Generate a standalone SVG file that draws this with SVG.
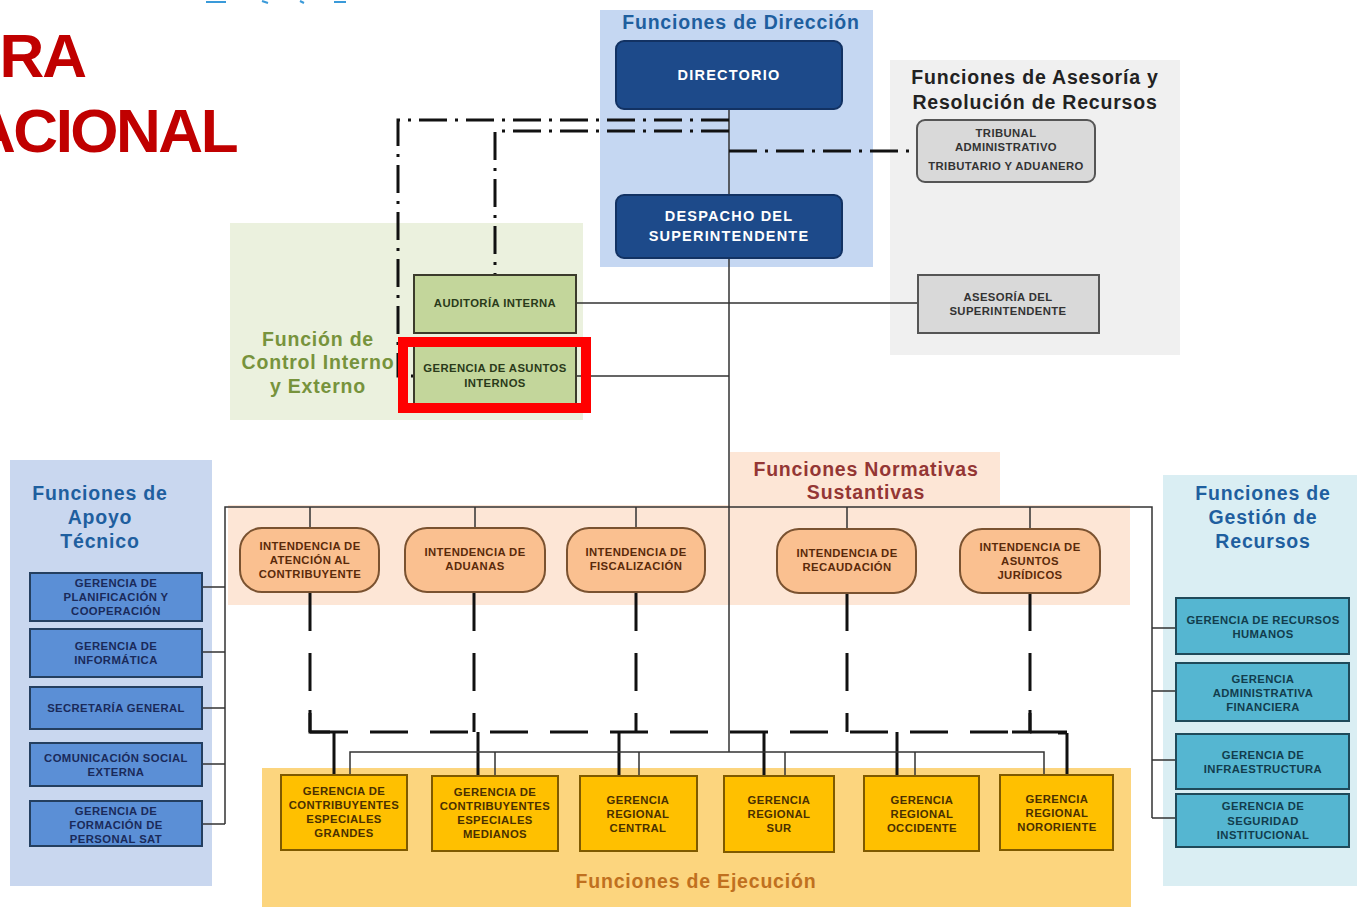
<svg xmlns="http://www.w3.org/2000/svg" width="1357" height="907" viewBox="0 0 1357 907">
<style>
.t{font-family:"Liberation Sans",Arial,sans-serif;font-weight:bold;text-anchor:middle}
.sec{font-size:19.5px;letter-spacing:0.8px}
.sm{font-size:11.3px;letter-spacing:0.4px}
.big{font-size:14.5px;letter-spacing:1.2px;fill:#fff}
.thin{stroke:#333;stroke-width:1.5;fill:none}
.dd{stroke:#111;stroke-width:3;fill:none;stroke-dasharray:28 8 3 8}
.dash{stroke:#111;stroke-width:3;fill:none;stroke-dasharray:38 22}
.thick{stroke:#111;stroke-width:3;fill:none}
.intd{fill:#fac090;stroke:#7a5230;stroke-width:2}
.ger{fill:#ffc000;stroke:#7f5a00;stroke-width:2}
.apo{fill:#5b8fd6;stroke:#243f60;stroke-width:2}
.ges{fill:#55b6d1;stroke:#1f4a5a;stroke-width:2}
.ase{fill:#d9d9d9;stroke:#555;stroke-width:2}
.dir{fill:#1d4a8a;stroke:#123263;stroke-width:2}
</style>
<rect width="1357" height="907" fill="#fff"/>
<g id="title">
<text x="85" y="77" text-anchor="end" font-family="Liberation Sans,Arial,sans-serif" font-weight="bold" font-size="62" fill="#c00000" letter-spacing="-2">RA</text>
<text x="236" y="152" text-anchor="end" font-family="Liberation Sans,Arial,sans-serif" font-weight="bold" font-size="62" fill="#c00000" letter-spacing="-2.5">ACIONAL</text>
<path d="M206,2 H226 M262,1 L268,3 M300,1 L304,3 M334,2 H346" stroke="#3a9ad9" stroke-width="2" fill="none"/>
</g>
<g id="panels">
<rect x="600" y="10" width="273" height="257" fill="#c5d7f2"/>
<rect x="890" y="60" width="290" height="295" fill="#f0f0f0"/>
<rect x="230" y="223" width="353" height="197" fill="#ebf1de"/>
<rect x="730" y="452" width="270" height="55" fill="#fde6d6"/>
<rect x="228" y="505" width="902" height="100" fill="#fde6d6"/>
<rect x="10" y="460" width="202" height="426" fill="#c9d7ef"/>
<rect x="1163" y="475" width="194" height="411" fill="#daeef3"/>
<rect x="262" y="768" width="869" height="139" fill="#fcd57e"/>
<text class="t sec" x="741" y="29" fill="#1f5f9f">Funciones de Dirección</text>
<text class="t sec" x="1035" y="84" fill="#222">Funciones de Asesoría y</text>
<text class="t sec" x="1035" y="109" fill="#222">Resolución de Recursos</text>
<text class="t sec" x="318" y="346" fill="#77933c">Función de</text>
<text class="t sec" x="318" y="369" fill="#77933c">Control Interno</text>
<text class="t sec" x="318" y="393" fill="#77933c">y Externo</text>
<text class="t sec" x="866" y="476" fill="#943634">Funciones Normativas</text>
<text class="t sec" x="866" y="499" fill="#943634">Sustantivas</text>
<text class="t sec" x="100" y="500" fill="#1f5f9f">Funciones de</text>
<text class="t sec" x="100" y="524" fill="#1f5f9f">Apoyo</text>
<text class="t sec" x="100" y="548" fill="#1f5f9f">Técnico</text>
<text class="t sec" x="1263" y="500" fill="#1f5f9f">Funciones de</text>
<text class="t sec" x="1263" y="524" fill="#1f5f9f">Gestión de</text>
<text class="t sec" x="1263" y="548" fill="#1f5f9f">Recursos</text>
<text class="t sec" x="696" y="888" fill="#c0701e">Funciones de Ejecución</text>
</g>
<g id="connectors">
<path class="thin" d="M729,109 V195 M729,258 V752"/>
<path class="dd" d="M729,120 H398 V376 H414"/>
<path class="dd" d="M729,131 H495 V275"/>
<path class="dd" d="M729,151 H917"/>
<path class="thin" d="M576,303 H918 M576,376 H729"/>
<path class="thin" d="M225,824 V507 H1152 V818"/>
<path class="thin" d="M310,507 V528 M475,507 V528 M636,507 V528 M847,507 V529 M1030,507 V529"/>
<path class="thin" d="M202,587 H225 M202,652 H225 M202,708 H225 M202,764 H225 M202,824 H225"/>
<path class="thin" d="M1152,628 H1176 M1152,691 H1176 M1152,760 H1176 M1152,818 H1176"/>
<path class="dash" d="M310,593 V732 M474,593 V732 M636,593 V732 M847,593 V732 M1030,593 V732 M310,732 H1067"/>
<path class="thick" d="M310,710 V732 H330 M1030,710 V732 H1012 M1058,733 H1067"/>
<path class="thick" d="M334,732 V775 M478,732 V776 M619,732 V776 M764,732 V776 M897,732 V776 M1067,733 V775"/>
<path class="thin" d="M350,775 V752 H1044 V775 M495,752 V776 M639,752 V776 M785,752 V776 M915,752 V776"/>
</g>
<g id="directorio"><rect class="dir" x="616" y="41" width="226" height="68" rx="8"/><text class="t big" x="729" y="80">DIRECTORIO</text></g>
<g id="despacho"><rect class="dir" x="616" y="195" width="226" height="63" rx="8"/><text class="t big" x="729" y="221">DESPACHO DEL</text><text class="t big" x="729" y="241">SUPERINTENDENTE</text></g>
<g id="tribunal"><rect class="ase" x="917" y="120" width="178" height="62" rx="8"/><text class="t sm" x="1006" y="137" fill="#333">TRIBUNAL</text><text class="t sm" x="1006" y="151" fill="#333">ADMINISTRATIVO</text><text class="t sm" x="1006" y="170" fill="#333">TRIBUTARIO Y ADUANERO</text></g>
<g id="asesoria"><rect class="ase" x="918" y="275" width="181" height="58"/><text class="t sm" x="1008" y="301" fill="#333">ASESORÍA DEL</text><text class="t sm" x="1008" y="315" fill="#333">SUPERINTENDENTE</text></g>
<g id="auditoria"><rect x="414" y="275" width="162" height="58" fill="#c3d69b" stroke="#3b3b2b" stroke-width="2"/><text class="t sm" x="495" y="307" fill="#2a3a1a">AUDITORÍA INTERNA</text></g>
<g id="asuntos-internos"><rect x="414" y="346" width="162" height="58" fill="#c3d69b" stroke="#3b3b2b" stroke-width="2"/><text class="t sm" x="495" y="372" fill="#2a3a1a">GERENCIA DE ASUNTOS</text><text class="t sm" x="495" y="387" fill="#2a3a1a">INTERNOS</text></g>
<g id="int-atencion"><rect class="intd" x="240" y="528" width="139" height="64" rx="22"/><text class="t sm" x="310" y="550" fill="#5a2a0a">INTENDENCIA DE</text><text class="t sm" x="310" y="564" fill="#5a2a0a">ATENCIÓN AL</text><text class="t sm" x="310" y="578" fill="#5a2a0a">CONTRIBUYENTE</text></g>
<g id="int-aduanas"><rect class="intd" x="405" y="528" width="140" height="64" rx="22"/><text class="t sm" x="475" y="556" fill="#5a2a0a">INTENDENCIA DE</text><text class="t sm" x="475" y="570" fill="#5a2a0a">ADUANAS</text></g>
<g id="int-fiscalizacion"><rect class="intd" x="567" y="528" width="138" height="64" rx="22"/><text class="t sm" x="636" y="556" fill="#5a2a0a">INTENDENCIA DE</text><text class="t sm" x="636" y="570" fill="#5a2a0a">FISCALIZACIÓN</text></g>
<g id="int-recaudacion"><rect class="intd" x="777" y="529" width="139" height="64" rx="22"/><text class="t sm" x="847" y="557" fill="#5a2a0a">INTENDENCIA DE</text><text class="t sm" x="847" y="571" fill="#5a2a0a">RECAUDACIÓN</text></g>
<g id="int-juridicos"><rect class="intd" x="960" y="529" width="140" height="64" rx="22"/><text class="t sm" x="1030" y="551" fill="#5a2a0a">INTENDENCIA DE</text><text class="t sm" x="1030" y="565" fill="#5a2a0a">ASUNTOS</text><text class="t sm" x="1030" y="579" fill="#5a2a0a">JURÍDICOS</text></g>
<g id="ger-grandes"><rect class="ger" x="281" y="775" width="126" height="75"/><text class="t sm" x="344" y="795" fill="#4a3000">GERENCIA DE</text><text class="t sm" x="344" y="809" fill="#4a3000">CONTRIBUYENTES</text><text class="t sm" x="344" y="823" fill="#4a3000">ESPECIALES</text><text class="t sm" x="344" y="837" fill="#4a3000">GRANDES</text></g>
<g id="ger-medianos"><rect class="ger" x="432" y="776" width="126" height="75"/><text class="t sm" x="495" y="796" fill="#4a3000">GERENCIA DE</text><text class="t sm" x="495" y="810" fill="#4a3000">CONTRIBUYENTES</text><text class="t sm" x="495" y="824" fill="#4a3000">ESPECIALES</text><text class="t sm" x="495" y="838" fill="#4a3000">MEDIANOS</text></g>
<g id="ger-central"><rect class="ger" x="580" y="776" width="117" height="75"/><text class="t sm" x="638" y="804" fill="#4a3000">GERENCIA</text><text class="t sm" x="638" y="818" fill="#4a3000">REGIONAL</text><text class="t sm" x="638" y="832" fill="#4a3000">CENTRAL</text></g>
<g id="ger-sur"><rect class="ger" x="724" y="776" width="110" height="76"/><text class="t sm" x="779" y="804" fill="#4a3000">GERENCIA</text><text class="t sm" x="779" y="818" fill="#4a3000">REGIONAL</text><text class="t sm" x="779" y="832" fill="#4a3000">SUR</text></g>
<g id="ger-occidente"><rect class="ger" x="864" y="776" width="115" height="75"/><text class="t sm" x="922" y="804" fill="#4a3000">GERENCIA</text><text class="t sm" x="922" y="818" fill="#4a3000">REGIONAL</text><text class="t sm" x="922" y="832" fill="#4a3000">OCCIDENTE</text></g>
<g id="ger-nororiente"><rect class="ger" x="1000" y="775" width="113" height="75"/><text class="t sm" x="1057" y="803" fill="#4a3000">GERENCIA</text><text class="t sm" x="1057" y="817" fill="#4a3000">REGIONAL</text><text class="t sm" x="1057" y="831" fill="#4a3000">NORORIENTE</text></g>
<g id="apo-planificacion"><rect class="apo" x="30" y="573" width="172" height="48"/><text class="t sm" x="116" y="587" fill="#1a2a5a">GERENCIA DE</text><text class="t sm" x="116" y="601" fill="#1a2a5a">PLANIFICACIÓN Y</text><text class="t sm" x="116" y="615" fill="#1a2a5a">COOPERACIÓN</text></g>
<g id="apo-informatica"><rect class="apo" x="30" y="629" width="172" height="48"/><text class="t sm" x="116" y="650" fill="#1a2a5a">GERENCIA DE</text><text class="t sm" x="116" y="664" fill="#1a2a5a">INFORMÁTICA</text></g>
<g id="apo-secretaria"><rect class="apo" x="30" y="687" width="172" height="42"/><text class="t sm" x="116" y="712" fill="#1a2a5a">SECRETARÍA GENERAL</text></g>
<g id="apo-comunicacion"><rect class="apo" x="30" y="743" width="172" height="43"/><text class="t sm" x="116" y="762" fill="#1a2a5a">COMUNICACIÓN SOCIAL</text><text class="t sm" x="116" y="776" fill="#1a2a5a">EXTERNA</text></g>
<g id="apo-formacion"><rect class="apo" x="30" y="801" width="172" height="45"/><text class="t sm" x="116" y="815" fill="#1a2a5a">GERENCIA DE</text><text class="t sm" x="116" y="829" fill="#1a2a5a">FORMACIÓN DE</text><text class="t sm" x="116" y="843" fill="#1a2a5a">PERSONAL SAT</text></g>
<g id="ges-rrhh"><rect class="ges" x="1176" y="598" width="173" height="56"/><text class="t sm" x="1263" y="624" fill="#123d4d">GERENCIA DE RECURSOS</text><text class="t sm" x="1263" y="638" fill="#123d4d">HUMANOS</text></g>
<g id="ges-administrativa"><rect class="ges" x="1176" y="663" width="173" height="58"/><text class="t sm" x="1263" y="683" fill="#123d4d">GERENCIA</text><text class="t sm" x="1263" y="697" fill="#123d4d">ADMINISTRATIVA</text><text class="t sm" x="1263" y="711" fill="#123d4d">FINANCIERA</text></g>
<g id="ges-infraestructura"><rect class="ges" x="1176" y="734" width="173" height="55"/><text class="t sm" x="1263" y="759" fill="#123d4d">GERENCIA DE</text><text class="t sm" x="1263" y="773" fill="#123d4d">INFRAESTRUCTURA</text></g>
<g id="ges-seguridad"><rect class="ges" x="1176" y="794" width="173" height="53"/><text class="t sm" x="1263" y="810" fill="#123d4d">GERENCIA DE</text><text class="t sm" x="1263" y="825" fill="#123d4d">SEGURIDAD</text><text class="t sm" x="1263" y="839" fill="#123d4d">INSTITUCIONAL</text></g>
<g id="highlight"><rect x="403" y="342" width="183" height="66" fill="none" stroke="#ff0000" stroke-width="10"/></g>
</svg>
